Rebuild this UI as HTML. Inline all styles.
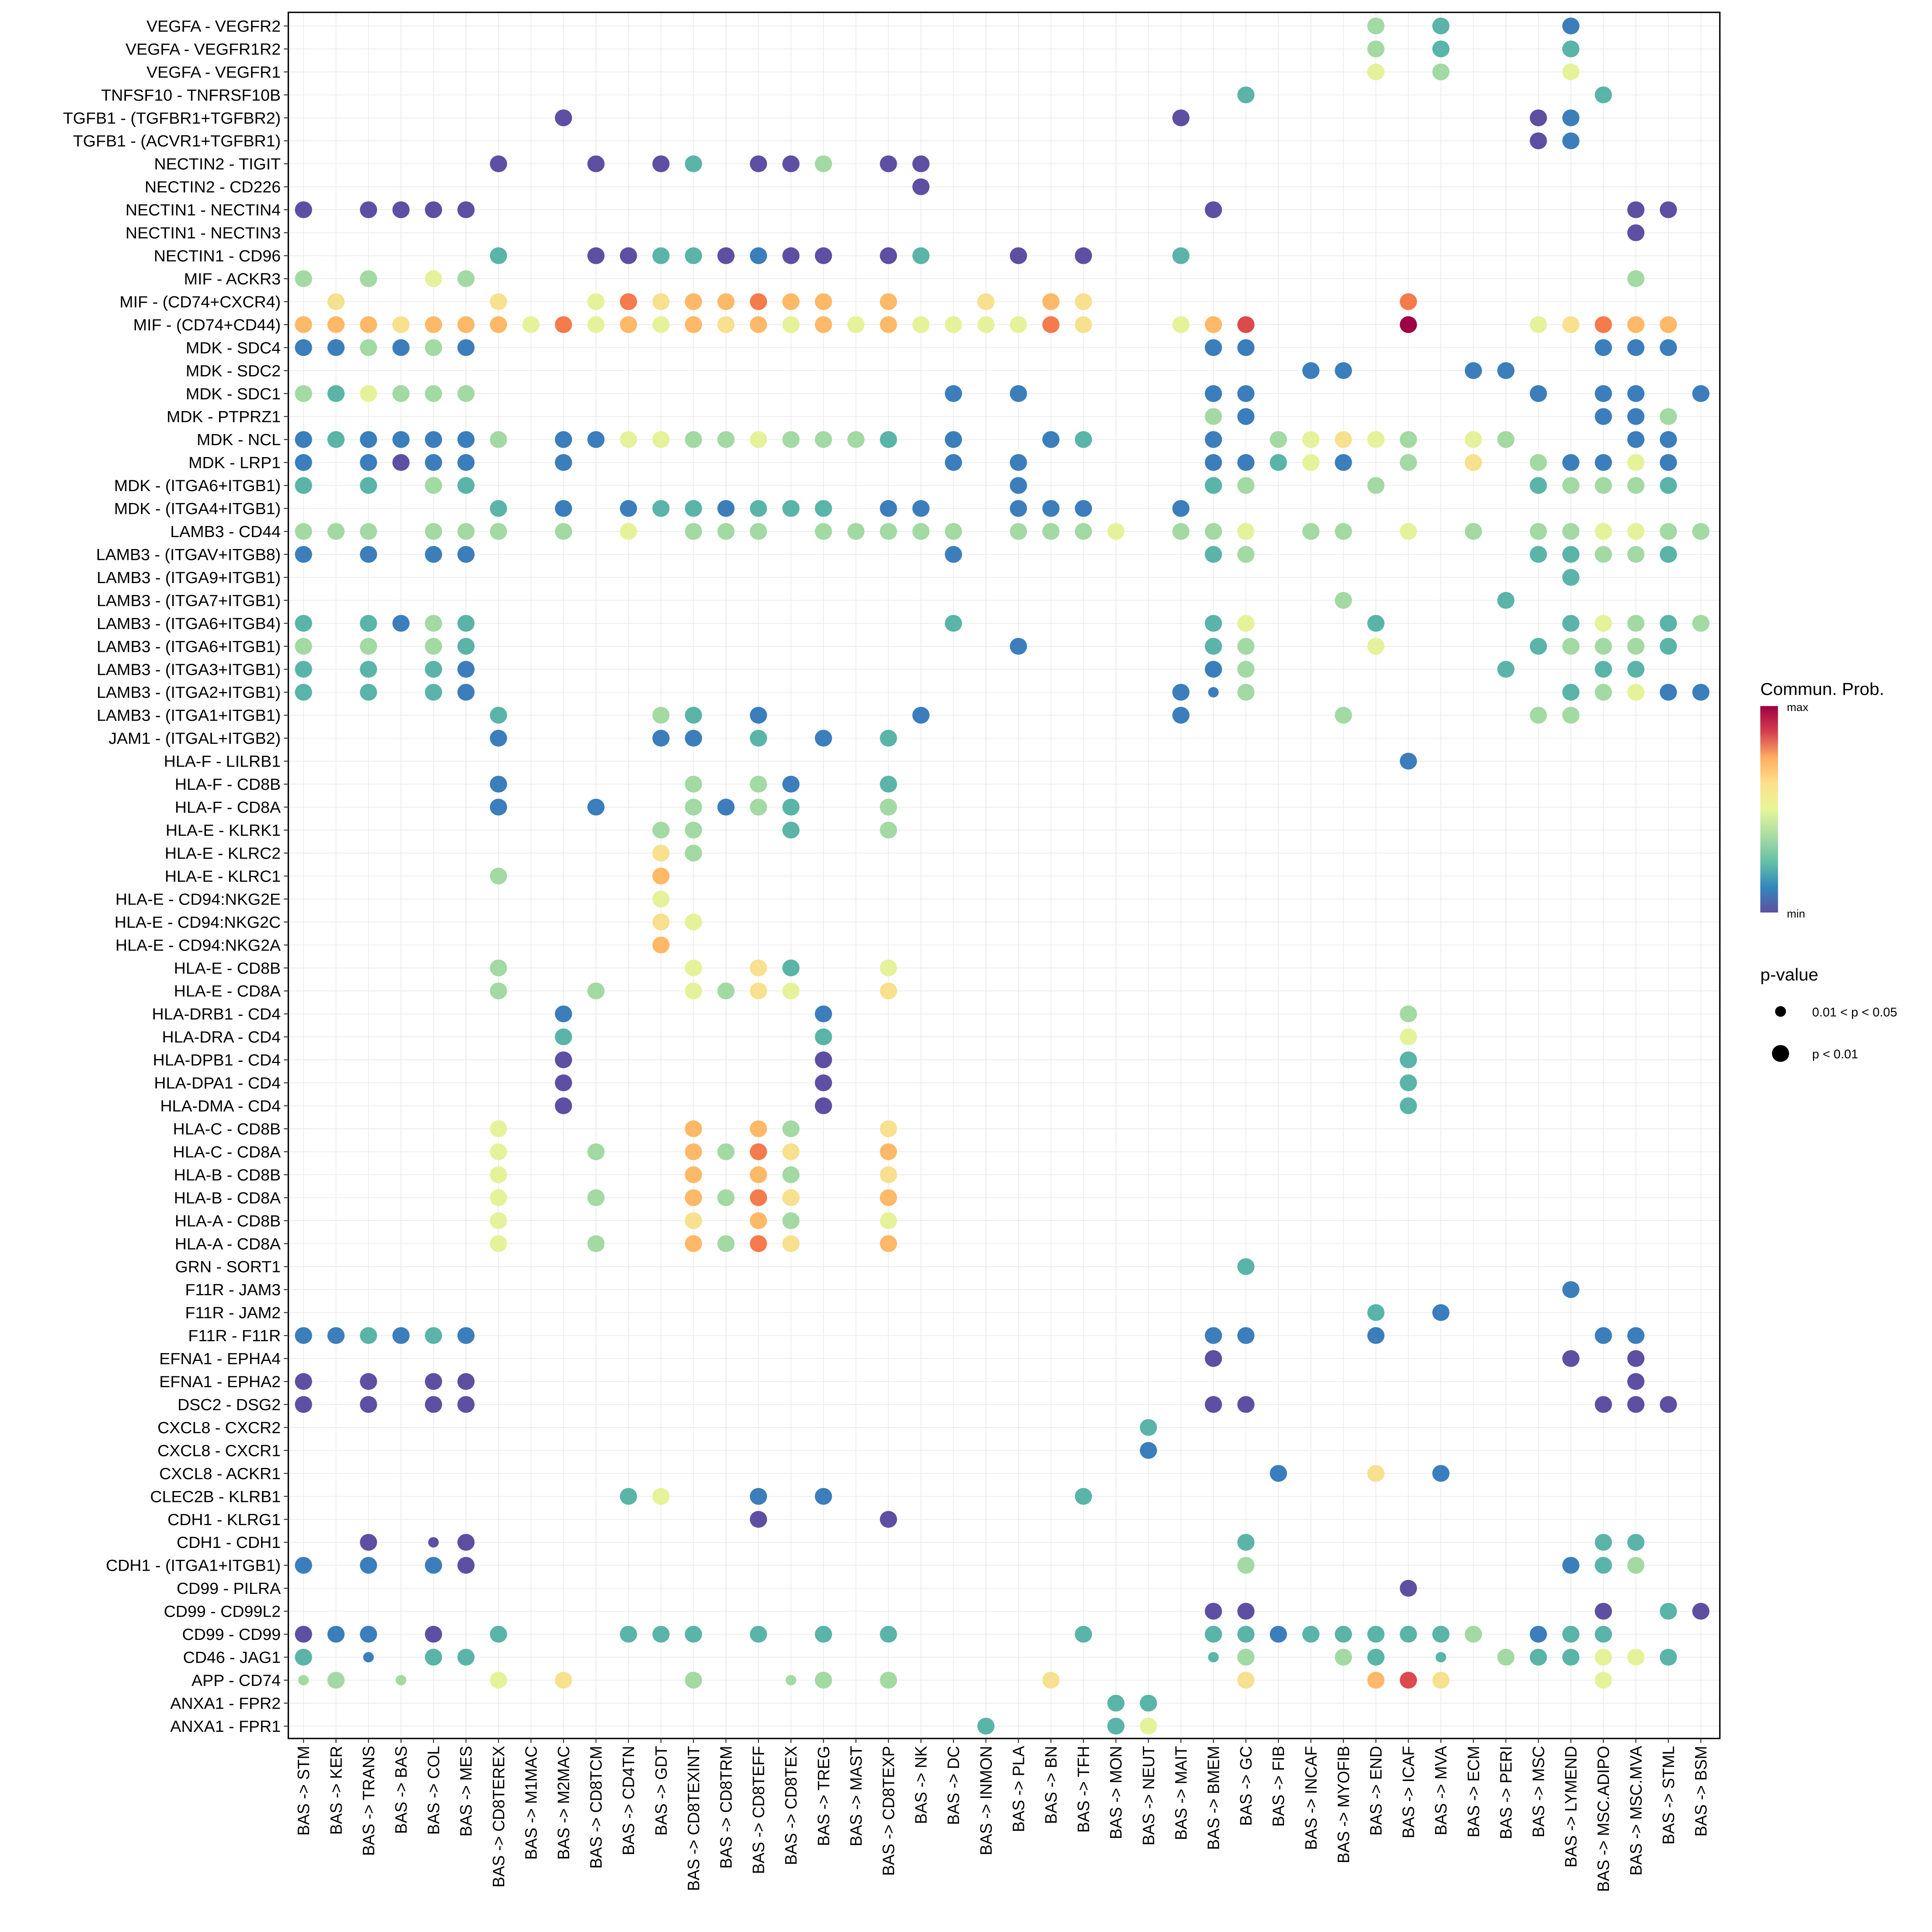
<!DOCTYPE html>
<html><head><meta charset="utf-8">
<meta name="viewport" content="width=5500">
<style>
html,body{margin:0;padding:0;background:#fff;overflow:hidden;width:100vw;height:100vh;}
svg{display:block;font-family:"Liberation Sans",Arial,sans-serif;width:100vw;height:100vh;}
</style></head>
<body>
<svg id="chart" xmlns="http://www.w3.org/2000/svg" viewBox="0 0 1527.78 1562.5" preserveAspectRatio="none">
<rect x="0" y="0" width="1527.78" height="1562.5" fill="#ffffff"/>
<g id="grid"></g>
<g id="dots"></g>
<rect x="228" y="10" width="1132" height="1396" fill="none" stroke="#000" stroke-width="1.1"/>
<g id="ylabels"></g>
<g id="xlabels"></g>
<g>
<text x="1392" y="562" font-size="14">Commun. Prob.</text>
<defs><linearGradient id="cg" x1="0" y1="1" x2="0" y2="0">
<stop offset="0" stop-color="#5E4FA2"/><stop offset="0.125" stop-color="#3288BD"/><stop offset="0.25" stop-color="#66C2A5"/><stop offset="0.375" stop-color="#ABDDA4"/><stop offset="0.5" stop-color="#E6F598"/><stop offset="0.625" stop-color="#FEE08B"/><stop offset="0.75" stop-color="#FDAE61"/><stop offset="0.875" stop-color="#D53E4F"/><stop offset="1" stop-color="#9E0142"/></linearGradient></defs>
<rect x="1392" y="571" width="14" height="167" fill="url(#cg)"/>
<text x="1413" y="575" font-size="9">max</text>
<text x="1413" y="742" font-size="9">min</text>
<text x="1392" y="793" font-size="14">p-value</text>
<circle cx="1408" cy="818" r="4.3" fill="#000"/>
<text x="1433" y="822" font-size="10">0.01 &lt; p &lt; 0.05</text>
<circle cx="1408" cy="852" r="6.8" fill="#000"/>
<text x="1433" y="856" font-size="10">p &lt; 0.01</text>
</g>
</svg>
<script>
const rowLabels = ["VEGFA - VEGFR2","VEGFA - VEGFR1R2","VEGFA - VEGFR1","TNFSF10 - TNFRSF10B","TGFB1 - (TGFBR1+TGFBR2)","TGFB1 - (ACVR1+TGFBR1)","NECTIN2 - TIGIT","NECTIN2 - CD226","NECTIN1 - NECTIN4","NECTIN1 - NECTIN3","NECTIN1 - CD96","MIF - ACKR3","MIF - (CD74+CXCR4)","MIF - (CD74+CD44)","MDK - SDC4","MDK - SDC2","MDK - SDC1","MDK - PTPRZ1","MDK - NCL","MDK - LRP1","MDK - (ITGA6+ITGB1)","MDK - (ITGA4+ITGB1)","LAMB3 - CD44","LAMB3 - (ITGAV+ITGB8)","LAMB3 - (ITGA9+ITGB1)","LAMB3 - (ITGA7+ITGB1)","LAMB3 - (ITGA6+ITGB4)","LAMB3 - (ITGA6+ITGB1)","LAMB3 - (ITGA3+ITGB1)","LAMB3 - (ITGA2+ITGB1)","LAMB3 - (ITGA1+ITGB1)","JAM1 - (ITGAL+ITGB2)","HLA-F - LILRB1","HLA-F - CD8B","HLA-F - CD8A","HLA-E - KLRK1","HLA-E - KLRC2","HLA-E - KLRC1","HLA-E - CD94:NKG2E","HLA-E - CD94:NKG2C","HLA-E - CD94:NKG2A","HLA-E - CD8B","HLA-E - CD8A","HLA-DRB1 - CD4","HLA-DRA - CD4","HLA-DPB1 - CD4","HLA-DPA1 - CD4","HLA-DMA - CD4","HLA-C - CD8B","HLA-C - CD8A","HLA-B - CD8B","HLA-B - CD8A","HLA-A - CD8B","HLA-A - CD8A","GRN - SORT1","F11R - JAM3","F11R - JAM2","F11R - F11R","EFNA1 - EPHA4","EFNA1 - EPHA2","DSC2 - DSG2","CXCL8 - CXCR2","CXCL8 - CXCR1","CXCL8 - ACKR1","CLEC2B - KLRB1","CDH1 - KLRG1","CDH1 - CDH1","CDH1 - (ITGA1+ITGB1)","CD99 - PILRA","CD99 - CD99L2","CD99 - CD99","CD46 - JAG1","APP - CD74","ANXA1 - FPR2","ANXA1 - FPR1"];
const colLabels = ["STM","KER","TRANS","BAS","COL","MES","CD8TEREX","M1MAC","M2MAC","CD8TCM","CD4TN","GDT","CD8TEXINT","CD8TRM","CD8TEFF","CD8TEX","TREG","MAST","CD8TEXP","NK","DC","INMON","PLA","BN","TFH","MON","NEUT","MAIT","BMEM","GC","FIB","INCAF","MYOFIB","END","ICAF","MVA","ECM","PERI","MSC","LYMEND","MSC.ADIPO","MSC.MVA","STML","BSM"];
// per row: "col:level" entries (level 0=min..9=max), trailing "s" = 0.01<p<0.05
const rowValues = [
"33:3,35:2,39:1","33:3,35:2,39:2","33:4,35:3,39:4","29:2,40:2","8:0,27:0,38:0,39:1","38:0,39:1",
"6:0,9:0,11:0,12:2,14:0,15:0,16:3,18:0,19:0","19:0","0:0,2:0,3:0,4:0,5:0,28:0,41:0,42:0","41:0",
"6:2,9:0,10:0,11:2,12:2,13:0,14:1,15:0,16:0,18:0,19:2,22:0,24:0,27:2","0:3,2:3,4:4,5:3,41:3",
"1:5,6:5,9:4,10:7,11:5,12:6,13:6,14:7,15:6,16:6,18:6,21:5,23:6,24:5,34:7",
"0:6,1:6,2:6,3:5,4:6,5:6,6:6,7:4,8:7,9:4,10:6,11:4,12:6,13:5,14:6,15:4,16:6,17:4,18:6,19:4,20:4,21:4,22:4,23:7,24:5,27:4,28:6,29:8,34:9,38:4,39:5,40:7,41:6,42:6",
"0:1,1:1,2:3,3:1,4:3,5:1,28:1,29:1,40:1,41:1,42:1","31:1,32:1,36:1,37:1",
"0:3,1:2,2:4,3:3,4:3,5:3,20:1,22:1,28:1,29:1,38:1,40:1,41:1,43:1","28:3,29:1,40:1,41:1,42:3",
"0:1,1:2,2:1,3:1,4:1,5:1,6:3,8:1,9:1,10:4,11:4,12:3,13:3,14:4,15:3,16:3,17:3,18:2,20:1,23:1,24:2,28:1,30:3,31:4,32:5,33:4,34:3,36:4,37:3,41:1,42:1",
"0:1,2:1,3:0,4:1,5:1,8:1,20:1,22:1,28:1,29:1,30:2,31:4,32:1,34:3,36:5,38:3,39:1,40:1,41:4,42:1",
"0:2,2:2,4:3,5:2,22:1,28:2,29:3,33:3,38:2,39:3,40:3,41:3,42:2",
"6:2,8:1,10:1,11:2,12:2,13:1,14:2,15:2,16:2,18:1,19:1,22:1,23:1,24:1,27:1",
"0:3,1:3,2:3,4:3,5:3,6:3,8:3,10:4,12:3,13:3,14:3,16:3,17:3,18:3,19:3,20:3,22:3,23:3,24:3,25:4,27:3,28:3,29:4,31:3,32:3,34:4,36:3,38:3,39:3,40:4,41:4,42:3,43:3",
"0:1,2:1,4:1,5:1,20:1,28:2,29:3,38:2,39:2,40:3,41:3,42:2","39:2","32:3,37:2",
"0:2,2:2,3:1,4:3,5:2,20:2,28:2,29:4,33:2,39:2,40:4,41:3,42:2,43:3",
"0:3,2:3,4:3,5:2,22:1,28:2,29:3,33:4,38:2,39:3,40:3,41:3,42:2",
"0:2,2:2,4:2,5:1,28:1,29:3,37:2,40:2,41:2",
"0:2,2:2,4:2,5:1,27:1,28:1s,29:3,39:2,40:3,41:4,42:1,43:1",
"6:2,11:3,12:2,14:1,19:1,27:1,32:3,38:3,39:3","6:1,11:1,12:1,14:2,16:1,18:2","34:1",
"6:1,12:3,14:3,15:1,18:2","6:1,9:1,12:3,13:1,14:3,15:2,18:3","11:3,12:3,15:2,18:3","11:5,12:3","6:3,11:6","11:4","11:5,12:4","11:6",
"6:3,12:4,14:5,15:2,18:4","6:3,9:3,12:4,13:3,14:5,15:4,18:5",
"8:1,16:1,34:3","8:2,16:2,34:4","8:0,16:0,34:2","8:0,16:0,34:2","8:0,16:0,34:2",
"6:4,12:6,14:6,15:3,18:5","6:4,9:3,12:6,13:3,14:7,15:5,18:6","6:4,12:6,14:6,15:3,18:5","6:4,9:3,12:6,13:3,14:7,15:5,18:6","6:4,12:5,14:6,15:3,18:4","6:4,9:3,12:6,13:3,14:7,15:5,18:6",
"29:2","39:1","33:2,35:1","0:1,1:1,2:2,3:1,4:2,5:1,28:1,29:1,33:1,40:1,41:1",
"28:0,39:0,41:0","0:0,2:0,4:0,5:0,41:0","0:0,2:0,4:0,5:0,28:0,29:0,40:0,41:0,42:0",
"26:2","26:1","30:1,33:5,35:1","10:2,11:4,14:1,16:1,24:2","14:0,18:0",
"2:0,4:0s,5:0,29:2,40:2,41:2","0:1,2:1,4:1,5:0,29:3,39:1,40:2,41:3","34:0","28:0,29:0,40:0,42:2,43:0",
"0:0,1:1,2:1,4:0,6:2,10:2,11:2,12:2,14:2,16:2,18:2,24:2,28:2,29:2,30:1,31:2,32:2,33:2,34:2,35:2,36:3,38:1,39:2,40:2",
"0:2,2:1s,4:2,5:2,28:2s,29:3,32:3,33:2,35:2s,37:3,38:2,39:2,40:4,41:4,42:2",
"0:3s,1:3,3:3s,6:4,8:5,12:3,15:3s,16:3,18:3,23:5,29:5,33:6,34:8,35:5,40:4",
"25:2,26:2","21:2,25:2,26:4"
];
const palette = ["#5E4FA2","#3B7EBB","#5AB4A8","#A3D9A2","#E5F29A","#F7E08E","#FDB968","#F57A4C","#DC4A4C","#9E0142"];

const NS = "http://www.w3.org/2000/svg";
const X0 = 240, DX = (1345 - 240) / 43;
const Y0 = 21, DY = (1396 - 21) / 74;
const xPos = i => X0 + i * DX;
const yPos = j => Y0 + j * DY;
const grid = document.getElementById('grid');
const dots = document.getElementById('dots');
const yl = document.getElementById('ylabels');
const xl = document.getElementById('xlabels');

function mk(tag, attrs){ const e = document.createElementNS(NS, tag); for (const k in attrs) e.setAttribute(k, attrs[k]); return e; }

colLabels.forEach((c, i) => {
  const x = xPos(i);
  const g = mk('line', {x1:x, y1:10, x2:x, y2:1406, stroke:'#EBEBEB', 'stroke-width':0.6});
  
  
  grid.appendChild(g);
  const t = mk('line', {x1:x, y1:1406, x2:x, y2:1409.5, stroke:'#333', 'stroke-width':0.8});
  
  
  xl.appendChild(t);
  const tx = mk('text', {x:0, y:0, 'font-size':13, 'text-anchor':'end', fill:'#000', transform:'translate(' + (x + 4.5) + ',1412) rotate(-90)'});
  tx.textContent = 'BAS -> ' + c;
  
  
  xl.appendChild(tx);
});
rowLabels.forEach((r, j) => {
  const y = yPos(j);
  const g = mk('line', {x1:228, y1:y, x2:1360, y2:y, stroke:'#EBEBEB', 'stroke-width':0.6});
  
  
  grid.appendChild(g);
  const t = mk('line', {x1:224.5, y1:y, x2:228, y2:y, stroke:'#333', 'stroke-width':0.8});
  
  
  yl.appendChild(t);
  const tx = mk('text', {x:222, y:y + 4.6, 'font-size':13, 'text-anchor':'end', fill:'#000'});
  tx.textContent = r;
  
  
  yl.appendChild(tx);
});
rowValues.forEach((s, j) => {
  if (!s) return;
  s.split(',').forEach(item => {
    const parts = item.split(':');
    const ci = parseInt(parts[0], 10);
    const small = parts[1].endsWith('s');
    const lvl = parseInt(parts[1], 10);
    const c = mk('circle', {cx:xPos(ci), cy:yPos(j), r: small ? 4.2 : 6.8, fill: palette[Math.max(0, Math.min(9, lvl))]});
    
    
    dots.appendChild(c);
  });
});
</script>
</body></html>
